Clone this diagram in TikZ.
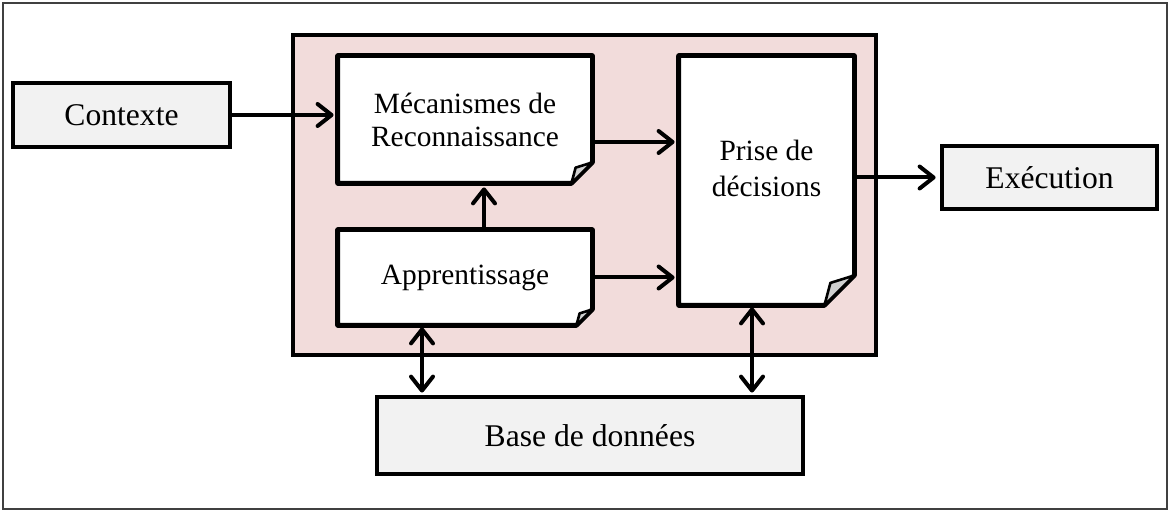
\documentclass[tikz,border=0pt]{standalone}
\usepackage{fontspec}
\setmainfont{Liberation Serif}
\usetikzlibrary{arrows.meta,backgrounds}
\definecolor{coreRose}{HTML}{F2DCDB}
\definecolor{boxGris}{HTML}{F2F2F2}
\definecolor{flapGris}{HTML}{D0D0D0}
\tikzset{
  bloc/.style={draw,line width=2.4pt,fill=boxGris,align=center,font=\fontsize{15.8}{18}\selectfont},
  note/.style={align=center,font=\fontsize{14.7}{16.5}\selectfont},
  fleche/.style={line width=2pt,-{Straight Barb[round,length=7pt,width=11pt]},shorten >=2pt},
  dfleche/.style={line width=2pt,{Straight Barb[round,length=7pt,width=11pt]}-{Straight Barb[round,length=7pt,width=11pt]},shorten >=1pt,shorten <=1pt},
}
\begin{document}
\begin{tikzpicture}[x=0.5pt,y=-0.5pt]
\useasboundingbox (0,0) rectangle (1170,512);
\draw[line width=0.75pt,black!75] (3,3) rectangle (1167,509);
% blocs exterieurs
\node[bloc,minimum width=108.5pt,minimum height=32pt] (ctx) at (121.5,115) {Contexte};
\node[bloc,minimum width=107.5pt,minimum height=31.5pt] (exec) at (1049.5,177.5) {Exécution};
\node[bloc,minimum width=213pt,minimum height=38.5pt] (base) at (590,435.5) {Base de données};
% notes
\node[note,minimum width=127pt,minimum height=63.5pt] (meca) at (465,119.5) {Mécanismes de\\Reconnaissance};
\node[note,minimum width=127pt,minimum height=47.5pt] (appr) at (465,277.5) {Apprentissage};
\node[note,font=\fontsize{14.7}{18}\selectfont,minimum width=87.5pt,minimum height=124.5pt] (prise) at (766.5,180.5) {Prise de\\décisions\\[-6pt]};
\begin{scope}[on background layer]
\node[draw,line width=2.4pt,fill=coreRose,minimum width=291.5pt,minimum height=160pt] (core) at (584.5,195) {};
\foreach \n/\f in {meca/10.5pt,appr/8pt,prise/15pt}{
  \draw[line width=2.4pt,fill=white,line join=round] (\n.north west) -- (\n.north east) -- ([yshift=\f]\n.south east) -- ([xshift=-\f]\n.south east) -- (\n.south west) -- cycle;
  \draw[line width=1.3pt,fill=flapGris,line join=round] ([yshift=\f]\n.south east) -- ([shift={(-0.8*\f,0.75*\f)}]\n.south east) -- ([xshift=-\f]\n.south east) -- cycle;
}
\end{scope}
% connexions
\draw[fleche] (ctx.east) -- (ctx.east -| meca.west);
\draw[fleche] ([yshift=-11.25pt]meca.east) -- ([yshift=-11.25pt]meca.east -| prise.west);
\draw[fleche] (appr.east) -- (appr.east -| prise.west);
\draw[fleche] ([xshift=9.5pt]appr.north) -- ([xshift=9.5pt]meca.south);
\draw[fleche] (prise.east |- exec.west) -- (exec.west);
\draw[dfleche] ([xshift=-21.5pt]appr.south) -- ([xshift=-21.5pt]appr.south |- base.north);
\draw[dfleche] ([xshift=-7.25pt]prise.south) -- ([xshift=-7.25pt]prise.south |- base.north);
\end{tikzpicture}
\end{document}
